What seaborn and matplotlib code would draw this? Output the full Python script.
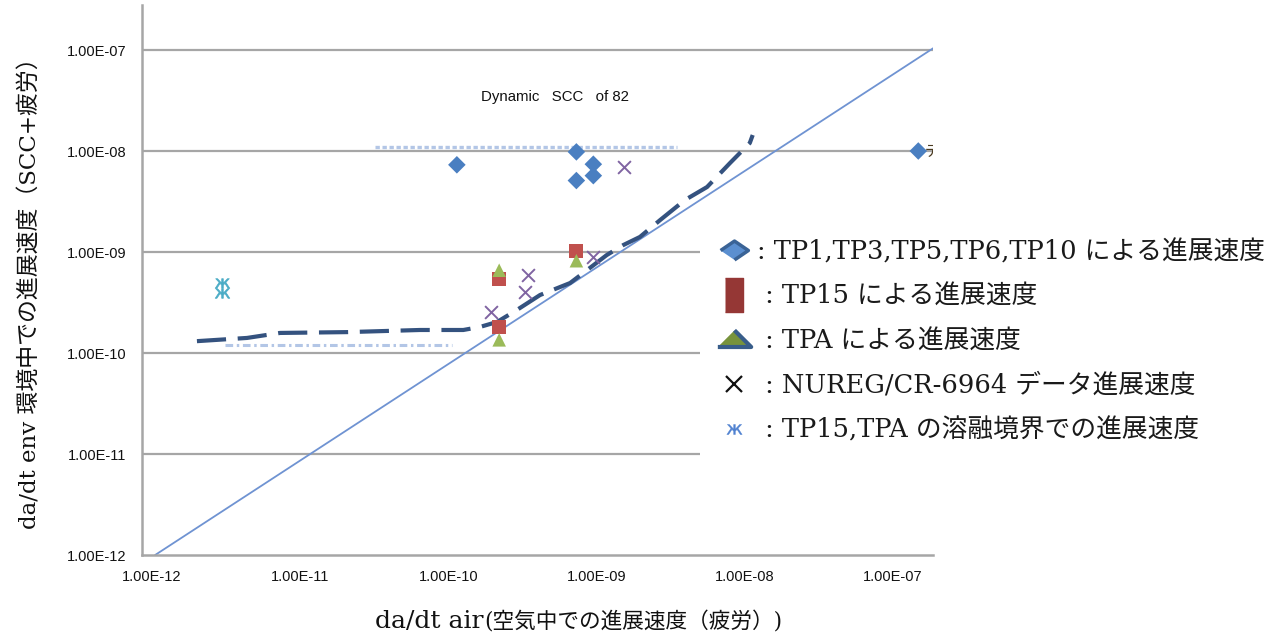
import matplotlib
matplotlib.use("Agg")
import matplotlib.pyplot as plt
import seaborn as sns
import numpy as np
from matplotlib.lines import Line2D
from matplotlib.patches import Rectangle
from matplotlib.font_manager import FontProperties
from matplotlib.ticker import FixedLocator, NullLocator

# ---------------- data ----------------
tp_x = [1.14e-10, 7.3e-10, 7.3e-10, 9.5e-10, 9.5e-10, 1.48e-7]
tp_y = [7.3e-9, 9.8e-9, 5.1e-9, 7.4e-9, 5.7e-9, 1.0e-8]

tp15_x = [2.2e-10, 2.2e-10, 7.3e-10]
tp15_y = [5.4e-10, 1.8e-10, 1.03e-9]

tpa_x = [2.2e-10, 2.2e-10, 7.3e-10]
tpa_y = [6.6e-10, 1.35e-10, 8.2e-10]

nureg_x = [1.94e-10, 3.3e-10, 3.44e-10, 9.4e-10, 1.54e-9]
nureg_y = [2.57e-10, 4.05e-10, 5.9e-10, 9.0e-10, 7.0e-9]

fusion_x = [2.95e-12, 2.95e-12]
fusion_y = [4.9e-10, 3.9e-10]

curve_x = [2.01e-12, 4.38e-12, 7.31e-12, 2.07e-11, 6.43e-11, 1.26e-10, 1.63e-10,
           2.13e-10, 2.9e-10, 4.15e-10, 6.62e-10, 9.0e-10, 1.17e-9, 1.51e-9,
           1.96e-9, 2.68e-9, 3.94e-9, 5.56e-9, 7.94e-9, 1.08e-8, 1.13e-8]
curve_y = [1.31e-10, 1.41e-10, 1.58e-10, 1.61e-10, 1.69e-10, 1.69e-10, 1.81e-10,
           2.03e-10, 2.67e-10, 3.75e-10, 4.93e-10, 6.95e-10, 9.33e-10, 1.17e-9,
           1.41e-9, 2.07e-9, 3.27e-9, 4.4e-9, 7.6e-9, 1.2e-8, 1.44e-8]

upper_x = [3.2e-11, 3.5e-9]
upper_y = [1.1e-8, 1.1e-8]
lower_x = [3.1e-12, 1.06e-10]
lower_y = [1.2e-10, 1.2e-10]

diag_x = [1.05e-12, 1.92e-7]
diag_y = [1.0e-12, 1.07e-7]

tick_vals = [1e-12, 1e-11, 1e-10, 1e-9, 1e-8, 1e-7]
tick_labels = ["1.00E-12", "1.00E-11", "1.00E-10", "1.00E-09", "1.00E-08", "1.00E-07"]

legend_labels = [
    ": TP1,TP3,TP5,TP6,TP10 による進展速度",
    " : TP15 による進展速度",
    " : TPA による進展速度",
    " : NUREG/CR-6964 データ進展速度",
    " : TP15,TPA の溶融境界での進展速度",
]
title_text = "Dynamic   SCC   of 82"
ylabel_text = "da/dt env 環境中での進展速度（SCC+疲労）"
xlabel_main = "da/dt air"
xlabel_sub = "(空気中での進展速度（疲労）)"

# ---------------- style ----------------
sns.set_style("white")
plt.rcParams["font.family"] = ["DejaVu Sans", "Noto Sans CJK JP"]

W, H = 1281, 633
fig = plt.figure(figsize=(W / 100, H / 100), dpi=100)
ax = fig.add_axes([142 / W, 1 - 555 / H, (933 - 142) / W, (555 - 5) / H])
ax.set_xscale("log")
ax.set_yscale("log")
ax.set_xlim(8.56e-13, 1.86e-7)
ax.set_ylim(1e-12, 2.79e-7)

grid_c = "#a6a6a6"
for v in tick_vals[1:]:
    ax.axhline(v, color=grid_c, lw=1.6, zorder=0.5)
for s in ["top", "right"]:
    ax.spines[s].set_visible(False)
for s in ["left", "bottom"]:
    ax.spines[s].set_color(grid_c)
    ax.spines[s].set_linewidth(1.8)

tick_font = ["Liberation Sans Narrow", "Liberation Sans", "DejaVu Sans"]
ax.xaxis.set_major_locator(FixedLocator(tick_vals))
ax.yaxis.set_major_locator(FixedLocator(tick_vals))
ax.xaxis.set_minor_locator(NullLocator())
ax.yaxis.set_minor_locator(NullLocator())
ax.set_xticklabels(tick_labels)
ax.set_yticklabels(tick_labels)
ax.tick_params(axis="both", length=0, pad=11)
for lab in ax.get_xticklabels() + ax.get_yticklabels():
    lab.set_fontfamily(tick_font)
    lab.set_fontsize(10.5)
    lab.set_color("#111111")

# diagonal reference line
sns.lineplot(x=diag_x, y=diag_y, ax=ax, color="#6f93d2", lw=1.3, sort=False,
             estimator=None, zorder=2)
# light horizontal guide lines
sns.lineplot(x=upper_x, y=upper_y, ax=ax, color="#b3c6e6", lw=2.4, sort=False,
             estimator=None, zorder=2)
ax.lines[-1].set_dashes((1.3, 0.8))
sns.lineplot(x=lower_x, y=lower_y, ax=ax, color="#b3c6e6", lw=2.2, sort=False,
             estimator=None, zorder=2)
ax.lines[-1].set_dashes((2.5, 1.2, 0.8, 1.2))
# dashed trend curve
sns.lineplot(x=curve_x, y=curve_y, ax=ax, color="#34527f", lw=3.0, sort=False,
             estimator=None, zorder=3)
ax.lines[-1].set_dashes((7.0, 2.8))

# markers
sns.scatterplot(x=tp_x, y=tp_y, ax=ax, marker="D", s=80, color="#4a7fc1",
                edgecolor="none", zorder=4)
sns.scatterplot(x=tp15_x, y=tp15_y, ax=ax, marker="s", s=100, color="#c0504d",
                edgecolor="none", zorder=4)
sns.scatterplot(x=tpa_x, y=tpa_y, ax=ax, marker="^", s=95, color="#9bbb59",
                edgecolor="none", zorder=4)
sns.scatterplot(x=nureg_x, y=nureg_y, ax=ax, marker="x", s=85, color="#8064a2",
                linewidth=1.4, zorder=4)
sns.scatterplot(x=fusion_x, y=fusion_y, ax=ax, marker=r"$\mathrm{ж}$", s=110,
                color="#4bacc6", edgecolor="#4bacc6", linewidth=0.5, zorder=4)

# clipped data label at the right edge
ax.annotate("デ", xy=(tp_x[-1], tp_y[-1]), xytext=(5, 0), textcoords="offset points",
            va="center", ha="left", fontsize=11, color="#4a3a20",
            family=["Noto Sans CJK JP"], annotation_clip=False, clip_on=True)

ax.text(5.24e-10, 3.43e-8, title_text, ha="center", va="center", fontsize=10.8,
        family=tick_font, color="#111111")

# axis labels
serif_cjk = ["DejaVu Serif", "Noto Sans CJK JP"]
fig.text(30 / W, 1 - 288 / H, ylabel_text, rotation=90, ha="center", va="center",
         fontsize=16.5, family=serif_cjk, color="#111111")
t1 = fig.text(375 / W, 1 - 628 / H, xlabel_main, ha="left", va="baseline",
              fontsize=18, family=serif_cjk, color="#111111")
fig.canvas.draw()
bb = t1.get_window_extent(renderer=fig.canvas.get_renderer())
fig.text((bb.x1 + 1) / W, 1 - 628 / H, xlabel_sub, ha="left", va="baseline",
         fontsize=15.6, family=serif_cjk, color="#111111")

# white panel behind legend
fig.add_artist(Rectangle((700 / W, 1 - 462 / H), (W - 700) / W, 234 / H,
                         transform=fig.transFigure, facecolor="white",
                         edgecolor="none", zorder=1))

handles = [
    Line2D([], [], ls="none", marker=[(-1, 0), (0, 0.68), (1, 0), (0, -0.68)],
           markersize=20, markerfacecolor="#5b8fd0", markeredgecolor="#3a6396",
           markeredgewidth=2.5),
    Line2D([], [], ls="none", marker=[(-0.28, -0.5), (0.28, -0.5), (0.28, 0.5), (-0.28, 0.5)],
           markersize=24, markerfacecolor="#953735", markeredgecolor="#953735"),
    Line2D([], [], ls="none", marker=[(-1, -0.45), (1, -0.45), (0, 0.55)],
           markersize=24, markerfacecolor="#77933c", markeredgecolor="#385d8a",
           markeredgewidth=3),
    Line2D([], [], ls="none", marker="x", markersize=12, markeredgecolor="#111111",
           markeredgewidth=1.6),
    Line2D([], [], ls="none", marker=r"$\mathrm{ж}$", markersize=11,
           markerfacecolor="#4f81d0", markeredgecolor="#4f81d0", markeredgewidth=0.3),
]
fig.legend(handles, legend_labels, loc="upper left",
           bbox_to_anchor=(715 / W, 1 - 239 / H), frameon=False,
           prop=FontProperties(family=serif_cjk, size=18.5),
           handlelength=1.5, handletextpad=0.15, labelspacing=0.76, borderpad=0,
           borderaxespad=0, labelcolor="#1a1a1a")

fig.savefig("out.png", dpi=100)
